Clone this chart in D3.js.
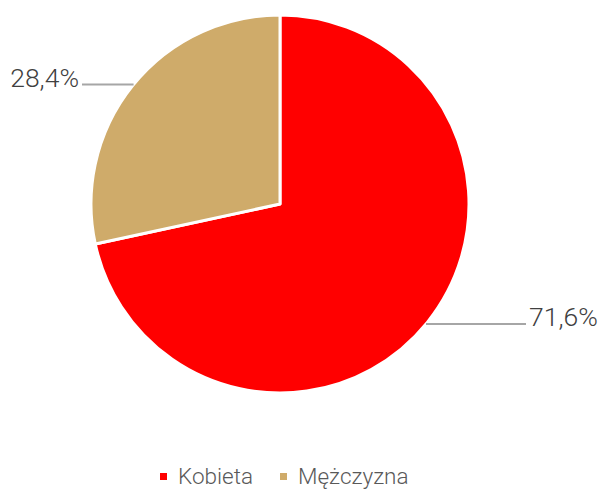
<!DOCTYPE html>
<html><head><meta charset="utf-8">
<script src="https://cdn.jsdelivr.net/npm/d3@7"></script>
<style>body{margin:0;background:#fff}svg{display:block}</style>
</head><body>
<script>
const categories = ["Kobieta", "Mężczyzna"];
const values = [71.6, 28.4];
const labels = ["71,6%", "28,4%"];
const colors = ["#ff0000", "#cfab6a"];

const W = 601, H = 489, cx = 280, cy = 204, R = 189;
const svg = d3.select("body").append("svg").attr("width", W).attr("height", H);
const g = svg.append("g").attr("transform", `translate(${cx},${cy})`);
const pie = d3.pie().sort(null).value(d => d);
const arcs = pie(values);
const arc = d3.arc().innerRadius(0).outerRadius(R);
g.selectAll("path").data(arcs).join("path")
  .attr("d", arc).attr("fill", (d, i) => colors[i])
  .attr("stroke", "#fff").attr("stroke-width", 3).attr("stroke-linejoin", "round");

// leader lines and labels
const font = "Roboto, 'Liberation Sans', sans-serif";
const labelPos = [
  {y: 324, x0: 1, x1: 526, tx: 529, anchor: "start"},
  {y: 84.5, x0: -1, x1: 82, tx: 79, anchor: "end"}
];
arcs.forEach((a, i) => {
  const p = labelPos[i];
  const dy = p.y - cy;
  const ex = cx + p.x0 * Math.sqrt(R * R - dy * dy);
  svg.append("line").attr("x1", ex).attr("x2", p.x1).attr("y1", p.y).attr("y2", p.y)
    .attr("stroke", "#a6a6a6").attr("stroke-width", 2);
  svg.append("text").attr("x", p.tx).attr("y", p.y + 2).attr("text-anchor", p.anchor)
    .attr("font-family", font).attr("font-weight", 300).attr("font-size", 26.5)
    .attr("fill", "#404040").text(labels[i]);
});

// legend
const legX = [160, 280];
categories.forEach((c, i) => {
  svg.append("rect").attr("x", legX[i]).attr("y", 473).attr("width", 7).attr("height", 7).attr("fill", colors[i]);
  svg.append("text").attr("x", legX[i] + 18).attr("y", 483.5)
    .attr("font-family", font).attr("font-weight", 300).attr("font-size", 22.5)
    .attr("fill", "#595959").text(c);
});
</script>
</body></html>
